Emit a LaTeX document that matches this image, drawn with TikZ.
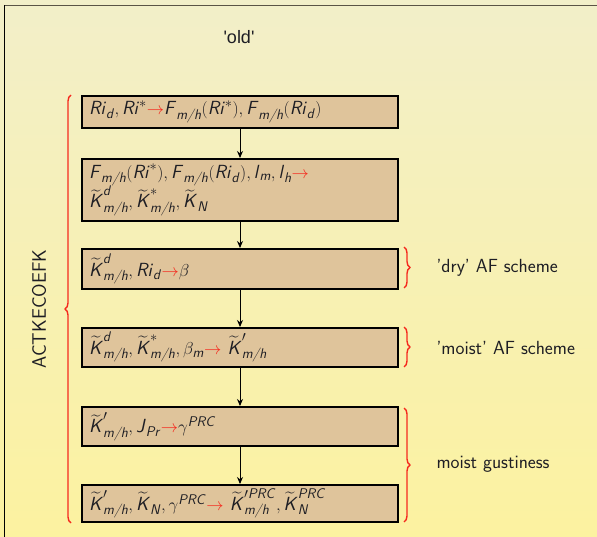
\documentclass[tikz,border=0pt]{standalone}
\usepackage{amsmath}
\usepackage{fontspec}
\usetikzlibrary{arrows.meta,decorations.pathreplacing}
\newfontfamily\arialfont[Ligatures=TeXOff]{Liberation Sans}
\DeclareMathSizes{19}{19}{14}{10}
\definecolor{bgtop}{HTML}{F2EFC9}
\definecolor{bgbot}{HTML}{FCF2A0}
\definecolor{tanfill}{HTML}{DFC49B}
\definecolor{framecol}{HTML}{5A5446}
\definecolor{txt}{HTML}{1E1E24}
\definecolor{brcol}{HTML}{F52A1E}
\newcommand\mv[1]{\textsf{\textit{#1}}}
\newcommand\ra{{\color{brcol}\rightarrow}}
\newcommand\Kt{\widetilde{\mv{K}}}
\tikzset{
  stepbox/.style={draw=black, line width=1.6pt, fill=tanfill, minimum width=316pt,
    text width=302pt, inner xsep=7pt, inner ysep=2pt, align=left, anchor=north,
    text=txt, font=\fontsize{19}{24}\selectfont},
  flow/.style={-{Stealth[length=7pt,width=6pt]}, line width=0.9pt, black},
  redbrace/.style={decorate, draw=brcol, line width=1.4pt},
  sidelab/.style={anchor=west, text=txt, font=\sffamily\fontsize{19}{22}\selectfont}
}
\begin{document}
\begin{tikzpicture}[x=1pt,y=-1pt]
\useasboundingbox (0,0) rectangle (597,537);
\shade[top color=bgtop,bottom color=bgbot] (0,0) rectangle (597,537);
\draw[framecol, line width=1.4pt] (4,5.6) -- (597,5.6);
\draw[black, line width=0.8pt] (4.3,5) -- (4.3,537);
\node[anchor=base, text=txt, font=\arialfont\fontsize{18}{22}\selectfont] (old) at (239,44) {'old'};

\node[stepbox, minimum height=32pt] (b1) at (240,95)
  {$\mv{Ri}_{\mv{d}}, \mv{Ri}^{*}\ra\mv{F}_{\mv{m/h}}(\mv{Ri}^{*}), \mv{F}_{\mv{m/h}}(\mv{Ri}_{\mv{d}})$};
\node[stepbox, minimum height=62pt] (b2) at (240,158)
  {$\mv{F}_{\mv{m/h}}(\mv{Ri}^{*}), \mv{F}_{\mv{m/h}}(\mv{Ri}_{\mv{d}}), \mv{l}_{\mv{m}}, \mv{l}_{\mv{h}}\ra$\\[-2pt]
   $\Kt^{\mv{d}}_{\mv{m/h}}, \Kt^{*}_{\mv{m/h}}, \Kt_{\mv{N}}$};
\node[stepbox, minimum height=40pt] (b3) at (240,248)
  {$\Kt^{\mv{d}}_{\mv{m/h}}, \mv{Ri}_{\mv{d}}\ra\beta$};
\node[stepbox, minimum height=39pt] (b4) at (240,327)
  {$\Kt^{\mv{d}}_{\mv{m/h}}, \Kt^{*}_{\mv{m/h}}, \beta_{\mv{m}}\ra\ \Kt'_{\mv{m/h}}$};
\node[stepbox, minimum height=39pt] (b5) at (240,406)
  {$\Kt'_{\mv{m/h}}, \mv{J}_{\mv{Pr}}\ra\gamma^{\mv{PRC}}$};
\node[stepbox, minimum height=37pt] (b6) at (240,484)
  {$\Kt'_{\mv{m/h}}, \Kt_{\mv{N}}, \gamma^{\mv{PRC}}\ra\ \Kt'^{\mv{PRC}}_{\mv{m/h}}, \Kt^{\mv{PRC}}_{\mv{N}}$};

\draw[flow] (b1) -- (b2);
\draw[flow] (b2) -- (b3);
\draw[flow] (b3) -- (b4);
\draw[flow] (b4) -- (b5);
\draw[flow] (b5) -- (b6);

\coordinate (lbB) at (71,523);
\coordinate (lbT) at (71,95);
\draw[redbrace, decoration={brace, amplitude=6pt}] (lbB) -- (lbT);
\node[rotate=90, text=txt, font=\sffamily\fontsize{19.5}{22}\selectfont] (act) at (39,309) {ACTKECOEFK};

\coordinate (d1) at (404,247); \coordinate (d2) at (404,288);
\coordinate (m1) at (404,327); \coordinate (m2) at (404,367);
\coordinate (g1) at (404,408); \coordinate (g2) at (404,522);
\draw[redbrace, decoration={brace, amplitude=6pt}] (d1) -- (d2);
\draw[redbrace, decoration={brace, amplitude=6pt}] (m1) -- (m2);
\draw[redbrace, decoration={brace, amplitude=6pt}] (g1) -- (g2);
\node[sidelab] (dry) at (433,268) {'dry' AF scheme};
\node[sidelab] (moist) at (433,348) {'moist' AF scheme};
\node[sidelab] (gust) at (433,464) {moist gustiness};
\end{tikzpicture}
\end{document}
